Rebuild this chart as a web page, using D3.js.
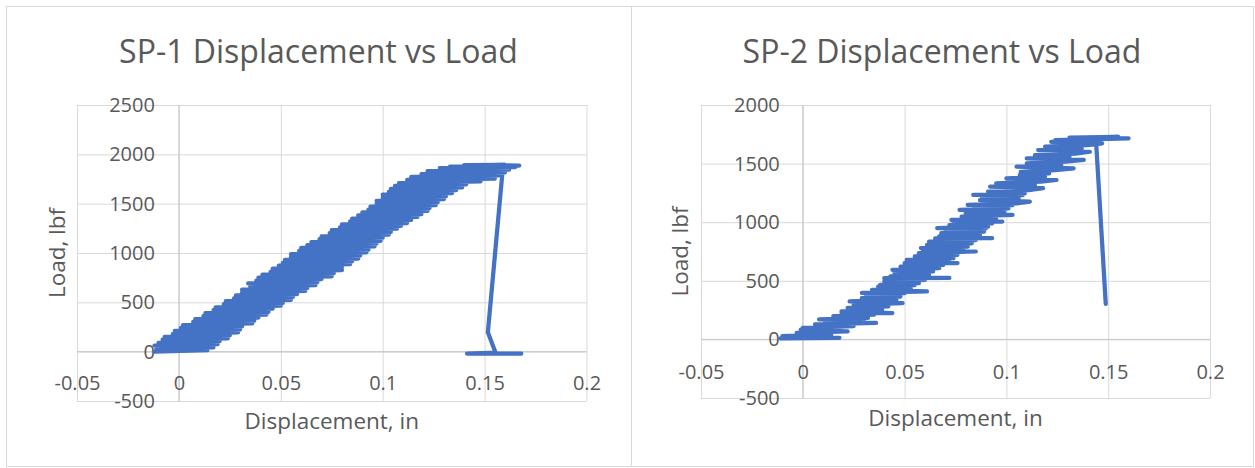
<!DOCTYPE html>
<html>
<head>
<meta charset="utf-8">
<script src="https://cdn.jsdelivr.net/npm/d3@7"></script>
<style>
  body { margin: 0; background: #fff; }
  text { font-family: "Open Sans", sans-serif; fill: #595959; }
</style>
</head>
<body>
<svg id="chart" width="1255" height="468"></svg>
<script>
const BLUE = "#4472C4";
const GRID = "#d9d9d9";
const AXIS = "#c6c6c6";

// tick values
const dispTicks = [-0.05, 0, 0.05, 0.1, 0.15, 0.2];
const sp1LoadTicks = [-500, 0, 500, 1000, 1500, 2000, 2500];
const sp2LoadTicks = [-500, 0, 500, 1000, 1500, 2000];

// SP-1 trace as [displacement in, load lbf]
const sp1Points = [
  [-0.012, 0], [0.014, 15], [-0.011, 31], [0.017, 44], [-0.012, 60], [0.019, 76],
  [-0.010, 89], [0.020, 106], [-0.008, 121], [0.024, 134], [-0.007, 151], [0.025, 166],
  [-0.003, 179], [0.029, 196], [-0.002, 211], [0.030, 224], [0.001, 241], [0.031, 256],
  [0.002, 269], [0.036, 286], [0.007, 301], [0.037, 314], [0.008, 331], [0.039, 346],
  [0.012, 359], [0.043, 376], [0.013, 391], [0.044, 404], [0.017, 421], [0.046, 436],
  [0.018, 449], [0.050, 466], [0.022, 481], [0.051, 494], [0.023, 511], [0.055, 526],
  [0.027, 539], [0.056, 556], [0.028, 571], [0.058, 584], [0.031, 601], [0.062, 616],
  [0.031, 629], [0.063, 646], [0.035, 661], [0.067, 674], [0.034, 691], [0.068, 706],
  [0.038, 719], [0.070, 736], [0.039, 751], [0.075, 764], [0.041, 781], [0.076, 796],
  [0.045, 809], [0.080, 826], [0.046, 841], [0.080, 854], [0.049, 871], [0.084, 886],
  [0.051, 899], [0.085, 916], [0.052, 931], [0.088, 944], [0.055, 961], [0.089, 976],
  [0.055, 989], [0.092, 1006], [0.059, 1021], [0.093, 1034], [0.060, 1051], [0.096, 1066],
  [0.063, 1079], [0.097, 1096], [0.065, 1111], [0.099, 1124], [0.069, 1141], [0.100, 1156],
  [0.070, 1169], [0.103, 1186], [0.074, 1201], [0.104, 1214], [0.075, 1231], [0.107, 1246],
  [0.079, 1259], [0.109, 1276], [0.080, 1291], [0.112, 1304], [0.084, 1321], [0.114, 1336],
  [0.085, 1349], [0.117, 1366], [0.088, 1381], [0.119, 1394], [0.090, 1411], [0.122, 1426],
  [0.093, 1439], [0.123, 1456], [0.094, 1471], [0.126, 1484], [0.097, 1501], [0.127, 1516],
  [0.097, 1529], [0.130, 1546], [0.100, 1561], [0.131, 1574], [0.100, 1591], [0.134, 1606],
  [0.103, 1619], [0.136, 1636], [0.104, 1651], [0.139, 1664], [0.106, 1681], [0.141, 1696],
  [0.108, 1709], [0.148, 1726], [0.112, 1741], [0.155, 1754], [0.114, 1771], [0.157, 1786],
  [0.119, 1799], [0.160, 1816], [0.122, 1831], [0.162, 1844], [0.128, 1861], [0.165, 1871],
  [0.133, 1876], [0.167, 1886], [0.140, 1891], [0.160, 1894], [0.146, 1889], [0.159, 1870],
  [0.1516, 196], [0.1554, -10], [0.1414, -20], [0.168, -21], [0.150, -18]
];

// SP-2 trace as [displacement in, load lbf]
const sp2Points = [
  [-0.011, 8], [0.018, 14], [-0.010, 28], [0.014, 42], [-0.003, 55], [0.022, 68],
  [-0.001, 84], [0.019, 97], [0.000, 99], [0.025, 114], [0.006, 128], [0.036, 140],
  [0.011, 152], [0.030, 166], [0.008, 170], [0.032, 184], [0.015, 198], [0.035, 212],
  [0.019, 226], [0.044, 225], [0.019, 240], [0.039, 254], [0.022, 268], [0.042, 282],
  [0.025, 296], [0.049, 310], [0.023, 324], [0.046, 338], [0.029, 352], [0.048, 366],
  [0.031, 380], [0.050, 394], [0.029, 396], [0.061, 409], [0.034, 422], [0.053, 436],
  [0.037, 450], [0.055, 464], [0.038, 466], [0.057, 480], [0.040, 494], [0.060, 508],
  [0.040, 523], [0.072, 524], [0.043, 538], [0.062, 552], [0.045, 566], [0.064, 580],
  [0.044, 594], [0.067, 608], [0.048, 622], [0.069, 636], [0.050, 650], [0.076, 651],
  [0.052, 666], [0.072, 680], [0.051, 679], [0.074, 694], [0.055, 708], [0.076, 722],
  [0.057, 736], [0.085, 750], [0.059, 764], [0.079, 778], [0.058, 779], [0.081, 792],
  [0.061, 806], [0.083, 820], [0.062, 835], [0.085, 848], [0.065, 862], [0.093, 864],
  [0.067, 878], [0.087, 892], [0.068, 906], [0.089, 920], [0.070, 934], [0.090, 948],
  [0.066, 949], [0.091, 962], [0.072, 976], [0.093, 990], [0.074, 1004], [0.098, 1005],
  [0.073, 1020], [0.095, 1034], [0.078, 1048], [0.103, 1062], [0.080, 1076], [0.099, 1090],
  [0.077, 1105], [0.101, 1118], [0.084, 1132], [0.103, 1146], [0.081, 1147], [0.105, 1160],
  [0.1115, 1176], [0.087, 1188], [0.106, 1202], [0.088, 1216], [0.108, 1230], [0.0837, 1233],
  [0.109, 1246], [0.091, 1260], [0.111, 1274], [0.118, 1290], [0.092, 1303], [0.114, 1316],
  [0.095, 1332], [0.117, 1346], [0.1246, 1360], [0.100, 1374], [0.119, 1388], [0.1066, 1403],
  [0.121, 1416], [0.107, 1430], [0.124, 1444], [0.133, 1460], [0.105, 1474], [0.127, 1488],
  [0.110, 1502], [0.129, 1516], [0.138, 1531], [0.110, 1545], [0.131, 1558], [0.114, 1572],
  [0.134, 1586], [0.141, 1601], [0.1156, 1616], [0.137, 1630], [0.119, 1644], [0.140, 1658],
  [0.147, 1673], [0.122, 1686], [0.143, 1694], [0.124, 1701], [0.150, 1710], [0.160, 1715],
  [0.131, 1722], [0.155, 1729], [0.133, 1720], [0.146, 1712], [0.144, 1700], [0.1488, 304]
];

const svg = d3.select("#chart");

function drawChart(cfg) {
  const g = svg.append("g");

  // chart area border
  g.append("rect")
    .attr("x", cfg.box[0] + 0.5)
    .attr("y", cfg.box[1] + 0.5)
    .attr("width", cfg.box[2] - cfg.box[0])
    .attr("height", cfg.box[3] - cfg.box[1])
    .attr("fill", "none")
    .attr("stroke", GRID);

  const x = d3.scaleLinear().domain([-0.05, 0.2]).range([cfg.plot[0], cfg.plot[1]]);
  const y = d3.scaleLinear().domain(d3.extent(cfg.yTicks)).range([cfg.plot[3], cfg.plot[2]]);

  // gridlines
  g.append("g")
    .attr("transform", "translate(0," + cfg.plot[3] + ")")
    .call(d3.axisBottom(x).tickValues(dispTicks).tickSize(-(cfg.plot[3] - cfg.plot[2])).tickFormat(""))
    .call(a => a.select(".domain").remove())
    .call(a => a.selectAll("line").attr("stroke", GRID));
  g.append("g")
    .attr("transform", "translate(" + cfg.plot[0] + ",0)")
    .call(d3.axisLeft(y).tickValues(cfg.yTicks).tickSize(-(cfg.plot[1] - cfg.plot[0])).tickFormat(""))
    .call(a => a.select(".domain").remove())
    .call(a => a.selectAll("line").attr("stroke", GRID));

  // axis lines through zero
  g.append("line")
    .attr("x1", x(0)).attr("x2", x(0))
    .attr("y1", cfg.plot[2]).attr("y2", cfg.plot[3])
    .attr("stroke", AXIS);
  g.append("line")
    .attr("x1", cfg.plot[0]).attr("x2", cfg.plot[1])
    .attr("y1", y(0)).attr("y2", y(0))
    .attr("stroke", AXIS);

  // tick labels
  g.append("g")
    .attr("transform", "translate(0," + y(0) + ")")
    .call(d3.axisBottom(x).tickValues(dispTicks).tickSize(0).tickPadding(cfg.xPad).tickFormat(d => String(d)))
    .call(a => a.select(".domain").remove())
    .call(a => a.selectAll("text").attr("font-size", 20).attr("font-family", null).attr("fill", "#595959"));
  g.append("g")
    .attr("transform", "translate(" + x(0) + ",0)")
    .call(d3.axisLeft(y).tickValues(cfg.yTicks).tickSize(0).tickPadding(cfg.yPad).tickFormat(d => String(d)))
    .call(a => a.select(".domain").remove())
    .call(a => a.selectAll("text").attr("font-size", 20).attr("font-family", null).attr("fill", "#595959"));

  // series
  g.append("path")
    .datum(cfg.points)
    .attr("d", d3.line().x(d => x(d[0])).y(d => y(d[1])))
    .attr("fill", "none")
    .attr("stroke", BLUE)
    .attr("stroke-width", 4.25)
    .attr("stroke-linejoin", "round")
    .attr("stroke-linecap", "round");

  // titles
  g.append("text")
    .attr("x", (cfg.box[0] + cfg.box[2]) / 2)
    .attr("y", 63)
    .attr("text-anchor", "middle")
    .attr("font-size", 32)
    .text(cfg.title);
  g.append("text")
    .attr("x", (cfg.plot[0] + cfg.plot[1]) / 2)
    .attr("y", cfg.plot[3] + 28)
    .attr("text-anchor", "middle")
    .attr("font-size", 22.5)
    .text("Displacement, in");
  g.append("text")
    .attr("transform", "translate(" + cfg.yTitleX + "," + (cfg.plot[2] + cfg.plot[3]) / 2 + ") rotate(-90)")
    .attr("text-anchor", "middle")
    .attr("font-size", 22.5)
    .text("Load, lbf");
}

drawChart({
  box: [6, 6, 631, 466],
  plot: [77, 586.5, 105, 401],
  yTicks: sp1LoadTicks,
  xPad: 24, yPad: 24,
  yTitleX: 65,
  title: "SP-1 Displacement vs Load",
  points: sp1Points
});

drawChart({
  box: [631, 6, 1253, 466],
  plot: [701, 1210, 105, 398],
  yTicks: sp2LoadTicks,
  xPad: 25, yPad: 23,
  yTitleX: 688,
  title: "SP-2 Displacement vs Load",
  points: sp2Points
});
</script>
</body>
</html>
